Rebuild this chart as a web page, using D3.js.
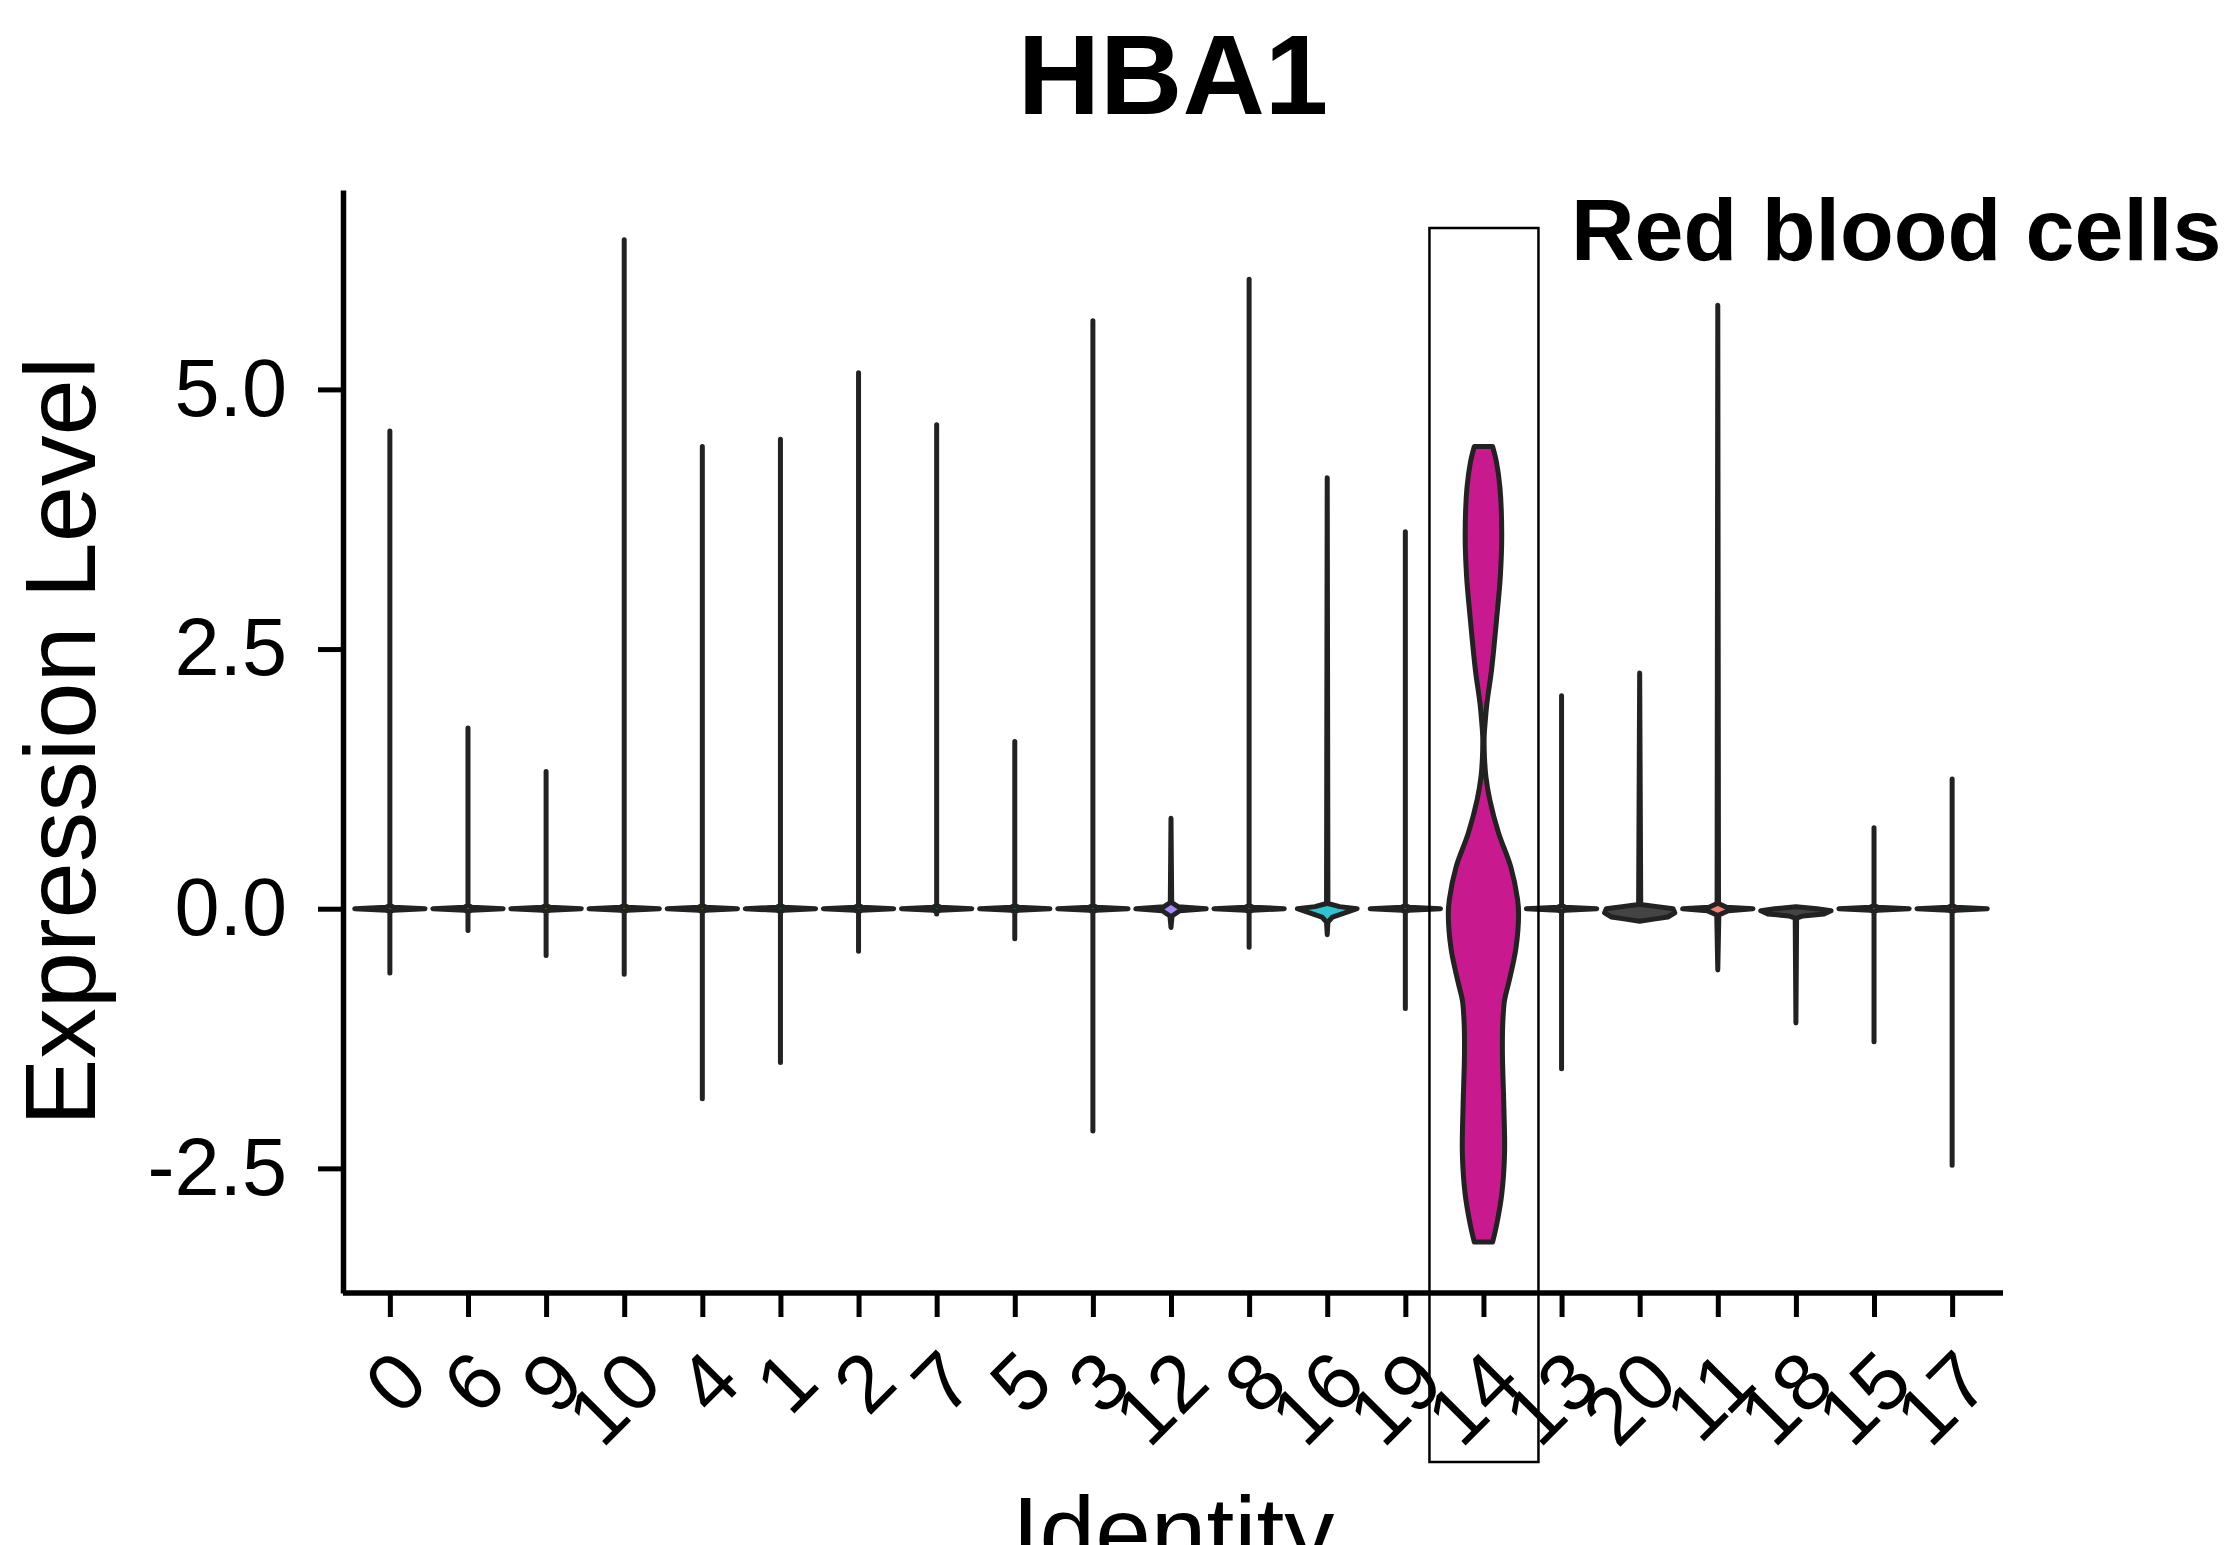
<!DOCTYPE html>
<html>
<head>
<meta charset="utf-8">
<script src="https://cdn.jsdelivr.net/npm/d3@7"></script>
<style>
  body { margin: 0; background: #fff; }
  svg { display: block; font-family: "Liberation Sans", Arial, Helvetica, sans-serif; }
</style>
</head>
<body>
<svg id="chart"></svg>
<script>
// cluster order along the x axis
const categories = ['0', '6', '9', '10', '4', '1', '2', '7', '5', '3', '12', '8', '16', '19', '14', '13', '20', '11', '18', '15', '17'];
// top and bottom of each violin (expression level)
const maxValues = [4.60, 1.74, 1.32, 6.44, 4.45, 4.52, 5.16, 4.66, 1.61, 5.66, 0.87, 6.06, 4.15, 3.63, 4.45, 2.05, 2.27, 5.81, 0.02, 0.78, 1.25];
const minValues = [-0.62, -0.21, -0.45, -0.63, -1.83, -1.48, -0.41, -0.05, -0.29, -2.14, -0.18, -0.37, -0.25, -0.96, -3.21, -1.54, -0.12, -0.59, -1.10, -1.28, -2.47];
const fillColors = ['#F8766D', '#E58700', '#C99800', '#A3A500', '#6BB100', '#00BA38', '#00BF7D', '#00C0AF', '#00BCD8', '#00B0F6',
                    '#A58AFF', '#619CFF', '#2EC4D4', '#DF70F8', '#C9198E', '#FB61D7', '#444444', '#F07F6F', '#444444', '#E76BF3', '#FD61D1'];
const yTicks = [-2.5, 0, 2.5, 5];

// density outline (value, relative width) for the clusters with a visible body
const profile14 = [[4.45, 0.26], [4.3, 0.37], [4.05, 0.47], [3.6, 0.52], [3.2, 0.48], [2.81, 0.38], [2.3, 0.23], [1.98, 0.10],
                   [1.8, 0.05], [1.65, 0.02], [1.45, 0.03], [1.27, 0.07], [1.05, 0.18], [0.73, 0.43], [0.4, 0.78], [0.09, 0.97],
                   [-0.05, 1.0], [-0.39, 0.92], [-0.71, 0.72], [-0.88, 0.6], [-1.1, 0.55], [-1.4, 0.54], [-1.9, 0.58],
                   [-2.36, 0.6], [-2.75, 0.52], [-3.05, 0.37], [-3.21, 0.26]];
const profile16 = [[0.05, 0.02], [0.02, 0.35], [0, 0.85], [-0.04, 0.5], [-0.08, 0.15], [-0.13, 0.02]];
const profile20 = [[0.04, 0.03], [0.02, 0.5], [0, 0.95], [-0.04, 1], [-0.08, 0.8], [-0.1, 0.4]];
const profile18 = [[0.0, 0.6], [-0.02, 1], [-0.05, 0.8], [-0.07, 0.2], [-0.09, 0.02]];
const profile12 = [[0.06, 0.02], [0.02, 0.2], [0, 1], [-0.02, 0.25], [-0.07, 0.03]];
const profile11 = [[0.05, 0.02], [0.015, 0.25], [0, 1], [-0.02, 0.3], [-0.06, 0.03]];
// the thin spike at zero that the other clusters share
const spikeShape = [[0.03, 0], [0.015, 0.1], [0, 1], [-0.015, 0.1], [-0.03, 0]];

const width = 2237, height = 1545;
const margin = { top: 190, right: 234, bottom: 252, left: 343 };

const svg = d3.select('#chart')
  .attr('width', width)
  .attr('height', height);

const xScale = d3.scalePoint()
  .domain(categories)
  .range([margin.left, width - margin.right - 4])
  .padding(0.6);

const yScale = d3.scaleLinear()
  .domain([-3.70, 6.92])
  .range([height - margin.bottom, margin.top]);

const halfMax = xScale.step() * 0.45;
const bodies = { '16': profile16, '20': profile20, '18': profile18, '12': profile12, '11': profile11 };

// build every violin outline
const violins = categories.map((c, i) => {
  let pts;
  if (c === '14') {
    pts = profile14;
  } else {
    const body = (bodies[c] || spikeShape).filter(p => p[0] < maxValues[i] && p[0] > minValues[i]);
    pts = [[maxValues[i], 0], ...body, [minValues[i], 0]];
  }
  return { cat: c, color: fillColors[i], pts: pts };
});

const chart = svg.append('g');

chart.selectAll('path.violin')
  .data(violins)
  .join('path')
  .attr('class', 'violin')
  .attr('fill', d => d.color)
  .attr('stroke', '#222')
  .attr('stroke-width', 5)
  .attr('stroke-linejoin', 'round')
  .attr('d', d => {
    const cx = xScale(d.cat);
    const area = d3.area()
      .y(p => yScale(p[0]))
      .x0(p => cx - p[1] * halfMax)
      .x1(p => cx + p[1] * halfMax)
      .curve(d.cat === '14' ? d3.curveCatmullRom : d3.curveLinear);
    return area(d.pts);
  });

// axes
const yAxis = d3.axisLeft(yScale)
  .tickValues(yTicks)
  .tickFormat(d => d.toFixed(1))
  .tickSize(25)
  .tickSizeOuter(0)
  .tickPadding(31);

const yAxisGroup = svg.append('g')
  .attr('transform', `translate(${margin.left},0)`)
  .call(yAxis);

const xAxis = d3.axisBottom(xScale)
  .tickSize(24)
  .tickSizeOuter(0);

const xAxisGroup = svg.append('g')
  .attr('transform', `translate(0,${height - margin.bottom})`)
  .call(xAxis);

// x axis line runs to the panel edge, slightly past the last padding
xAxisGroup.select('.domain').attr('d', `M${margin.left},0H${width - margin.right}`);

[yAxisGroup, xAxisGroup].forEach(g => {
  g.select('.domain').attr('stroke', '#000').attr('stroke-width', 5.5);
  g.selectAll('.tick line').attr('stroke', '#000').attr('stroke-width', 5);
  g.selectAll('.tick text')
    .attr('fill', '#000')
    .style('font-size', '81px')
    .style('font-family', '"Liberation Sans", Arial, sans-serif');
});

xAxisGroup.selectAll('.tick text')
  .attr('x', 0)
  .attr('y', 0)
  .attr('dy', 0)
  .attr('text-anchor', 'end')
  .attr('transform', 'translate(41,93) rotate(-45)');

// titles
svg.append('text')
  .attr('x', (margin.left + width - margin.right) / 2)
  .attr('y', 114)
  .attr('text-anchor', 'middle')
  .style('font-size', '114px')
  .style('font-weight', 'bold')
  .text('HBA1');

svg.append('text')
  .attr('transform', `translate(95,${(margin.top + height - margin.bottom) / 2}) rotate(-90)`)
  .attr('text-anchor', 'middle')
  .style('font-size', '101px')
  .text('Expression Level');

svg.append('text')
  .attr('x', (margin.left + width - margin.right) / 2)
  .attr('y', 1567)
  .attr('text-anchor', 'middle')
  .style('font-size', '100px')
  .text('Identity');

// highlight box around cluster 14
const boxX = xScale('14');
svg.append('rect')
  .attr('x', boxX - 54)
  .attr('y', 228)
  .attr('width', 109)
  .attr('height', 1234)
  .attr('fill', 'none')
  .attr('stroke', '#000')
  .attr('stroke-width', 2.5);

svg.append('text')
  .attr('x', 1571)
  .attr('y', 260)
  .style('font-size', '88px')
  .style('font-weight', 'bold')
  .text('Red blood cells');
</script>
</body>
</html>
